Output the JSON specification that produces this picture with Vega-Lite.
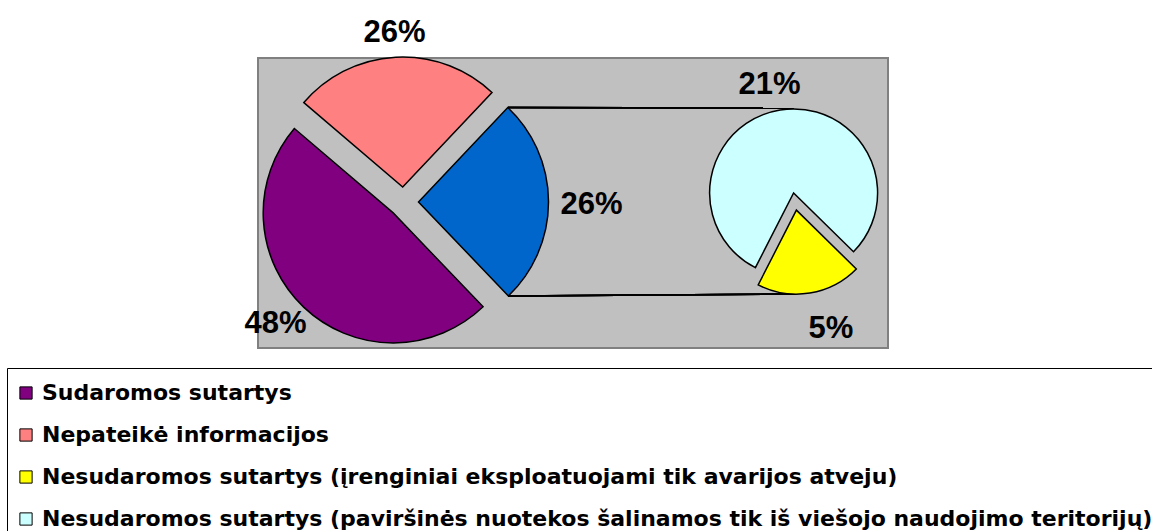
{
  "$schema": "https://vega.github.io/schema/vega-lite/v6.json",
  "width": 630,
  "height": 290,
  "autosize": {"type": "none"},
  "padding": {"left": 258, "top": 58, "right": 264, "bottom": 183},
  "background": "white",
  "config": {
    "view": {"fill": "#C0C0C0", "stroke": "#808080", "strokeWidth": 2},
    "legend": {
      "symbolType": "square",
      "symbolSize": 150,
      "symbolStrokeColor": "#000000",
      "symbolStrokeWidth": 1,
      "symbolOffset": -6,
      "labelFont": "DejaVu Sans",
      "labelFontSize": 22,
      "labelFontWeight": "bold",
      "labelColor": "#000000",
      "labelLimit": 3000,
      "labelOffset": 5,
      "rowPadding": 20,
      "padding": 14,
      "strokeColor": "#000000",
      "fillColor": "#FFFFFF",
      "cornerRadius": 0
    }
  },
  "data": {
    "values": [
      {"pie": "main", "cat": "Nepateikė informacijos", "value": 0.258, "order": 1},
      {"pie": "main", "cat": "Kita", "value": 0.258, "order": 2},
      {"pie": "main", "cat": "Sudaromos sutartys", "value": 0.484, "order": 3},
      {"pie": "sub", "cat": "Nesudaromos sutartys (įrenginiai eksploatuojami tik avarijos atveju)", "value": 0.052, "order": 1},
      {"pie": "sub", "cat": "Nesudaromos sutartys (paviršinės nuotekos šalinamos tik iš viešojo naudojimo teritorijų)", "value": 0.206, "order": 2}
    ]
  },
  "transform": [
    {"stack": "value", "groupby": ["pie"], "sort": [{"field": "order", "order": "ascending"}], "as": ["t0", "t1"]}
  ],
  "encoding": {
    "x": {"field": "pie", "type": "nominal", "scale": {"type": "point", "domain": ["main", "sub"], "range": [145.5, 537], "padding": 0}, "axis": null},
    "y": {"field": "pie", "type": "nominal", "scale": {"type": "point", "domain": ["main", "sub"], "range": [144, 143.5], "padding": 0}, "axis": null}
  },
  "layer": [
    {
      "mark": {"type": "rule", "stroke": "#000000", "strokeWidth": 1.5, "xOffset": 104.5, "yOffset": -94.5, "x2Offset": -1.5, "y2Offset": -93.5},
      "encoding": {
        "x": {"datum": "main", "type": "nominal"},
        "x2": {"datum": "sub"},
        "y": {"datum": "main", "type": "nominal"},
        "y2": {"datum": "sub"}
      }
    },
    {
      "mark": {"type": "rule", "stroke": "#000000", "strokeWidth": 1.5, "xOffset": 104.8, "yOffset": 94, "x2Offset": 1, "y2Offset": 92.5},
      "encoding": {
        "x": {"datum": "main", "type": "nominal"},
        "x2": {"datum": "sub"},
        "y": {"datum": "main", "type": "nominal"},
        "y2": {"datum": "sub"}
      }
    },
    {
      "transform": [{"filter": "datum.cat === 'Nepateikė informacijos'"}],
      "mark": {"type": "arc", "outerRadius": 130, "stroke": "#000000", "strokeWidth": 1.5, "xOffset": -0.8, "yOffset": -15},
      "encoding": {
        "theta": {"field": "t0", "type": "quantitative", "scale": {"domain": [0, 1], "range": [-0.86394, 5.41925]}},
        "theta2": {"field": "t1"},
        "color": {"field": "cat", "type": "nominal", "scale": {"domain": ["Sudaromos sutartys", "Nepateikė informacijos", "Nesudaromos sutartys (įrenginiai eksploatuojami tik avarijos atveju)", "Nesudaromos sutartys (paviršinės nuotekos šalinamos tik iš viešojo naudojimo teritorijų)"], "range": ["#800080", "#FF8080", "#FFFF00", "#CCFFFF"]}, "legend": {"orient": "none", "legendX": -251, "legendY": 310, "direction": "vertical", "title": null}}
      }
    },
    {
      "transform": [{"filter": "datum.cat === 'Kita'"}],
      "mark": {"type": "arc", "outerRadius": 130, "stroke": "#000000", "strokeWidth": 1.5, "fill": "#0066CC", "xOffset": 15, "yOffset": 0},
      "encoding": {
        "theta": {"field": "t0", "type": "quantitative", "scale": {"domain": [0, 1], "range": [-0.86394, 5.41925]}},
        "theta2": {"field": "t1"}
      }
    },
    {
      "transform": [{"filter": "datum.cat === 'Sudaromos sutartys'"}],
      "mark": {"type": "arc", "outerRadius": 130, "stroke": "#000000", "strokeWidth": 1.5, "xOffset": -10.3, "yOffset": 10.9},
      "encoding": {
        "theta": {"field": "t0", "type": "quantitative", "scale": {"domain": [0, 1], "range": [-0.86394, 5.41925]}},
        "theta2": {"field": "t1"},
        "color": {"field": "cat", "type": "nominal", "scale": {"domain": ["Sudaromos sutartys", "Nepateikė informacijos", "Nesudaromos sutartys (įrenginiai eksploatuojami tik avarijos atveju)", "Nesudaromos sutartys (paviršinės nuotekos šalinamos tik iš viešojo naudojimo teritorijų)"], "range": ["#800080", "#FF8080", "#FFFF00", "#CCFFFF"]}, "legend": {"orient": "none", "legendX": -251, "legendY": 310, "direction": "vertical", "title": null}}
      }
    },
    {
      "transform": [{"filter": "datum.cat === 'Nesudaromos sutartys (įrenginiai eksploatuojami tik avarijos atveju)'"}],
      "mark": {"type": "arc", "outerRadius": 84, "stroke": "#000000", "strokeWidth": 1.5, "xOffset": 1.4, "yOffset": 8.6},
      "encoding": {
        "theta": {"field": "t0", "type": "quantitative", "scale": {"domain": [0, 0.258], "range": [2.34747, 8.63066]}},
        "theta2": {"field": "t1"},
        "color": {"field": "cat", "type": "nominal", "scale": {"domain": ["Sudaromos sutartys", "Nepateikė informacijos", "Nesudaromos sutartys (įrenginiai eksploatuojami tik avarijos atveju)", "Nesudaromos sutartys (paviršinės nuotekos šalinamos tik iš viešojo naudojimo teritorijų)"], "range": ["#800080", "#FF8080", "#FFFF00", "#CCFFFF"]}, "legend": {"orient": "none", "legendX": -251, "legendY": 310, "direction": "vertical", "title": null}}
      }
    },
    {
      "transform": [{"filter": "datum.cat === 'Nesudaromos sutartys (paviršinės nuotekos šalinamos tik iš viešojo naudojimo teritorijų)'"}],
      "mark": {"type": "arc", "outerRadius": 84, "stroke": "#000000", "strokeWidth": 1.5, "xOffset": -1.4, "yOffset": -8.6},
      "encoding": {
        "theta": {"field": "t0", "type": "quantitative", "scale": {"domain": [0, 0.258], "range": [2.34747, 8.63066]}},
        "theta2": {"field": "t1"},
        "color": {"field": "cat", "type": "nominal", "scale": {"domain": ["Sudaromos sutartys", "Nepateikė informacijos", "Nesudaromos sutartys (įrenginiai eksploatuojami tik avarijos atveju)", "Nesudaromos sutartys (paviršinės nuotekos šalinamos tik iš viešojo naudojimo teritorijų)"], "range": ["#800080", "#FF8080", "#FFFF00", "#CCFFFF"]}, "legend": {"orient": "none", "legendX": -251, "legendY": 310, "direction": "vertical", "title": null}}
      }
    },
    {
      "transform": [{"filter": "datum.pie === 'main'"}],
      "mark": {"type": "text", "radius": 170, "yOffset": 1, "font": "Liberation Sans", "fontSize": 31, "fontWeight": "bold", "fill": "#000000", "align": "center", "baseline": "middle"},
      "encoding": {
        "theta": {"field": "value", "type": "quantitative", "stack": true, "scale": {"domain": [0, 1], "range": [-0.86394, 5.41925]}},
        "order": {"field": "order", "type": "quantitative"},
        "detail": {"field": "cat", "type": "nominal"},
        "text": {"condition": {"test": "datum.cat === 'Nepateikė informacijos'", "field": "value", "type": "quantitative", "format": ".0%"}, "value": ""}
      }
    },
    {
      "transform": [{"filter": "datum.pie === 'main'"}],
      "mark": {"type": "text", "radius": 188, "yOffset": 4, "font": "Liberation Sans", "fontSize": 31, "fontWeight": "bold", "fill": "#000000", "align": "center", "baseline": "middle"},
      "encoding": {
        "theta": {"field": "value", "type": "quantitative", "stack": true, "scale": {"domain": [0, 1], "range": [-0.86394, 5.41925]}},
        "order": {"field": "order", "type": "quantitative"},
        "detail": {"field": "cat", "type": "nominal"},
        "text": {"condition": {"test": "datum.cat === 'Kita'", "field": "value", "type": "quantitative", "format": ".0%"}, "value": ""}
      }
    },
    {
      "transform": [{"filter": "datum.pie === 'main'"}],
      "mark": {"type": "text", "radius": 176, "xOffset": -7, "yOffset": -6, "font": "Liberation Sans", "fontSize": 31, "fontWeight": "bold", "fill": "#000000", "align": "center", "baseline": "middle"},
      "encoding": {
        "theta": {"field": "value", "type": "quantitative", "stack": true, "scale": {"domain": [0, 1], "range": [-0.86394, 5.41925]}},
        "order": {"field": "order", "type": "quantitative"},
        "detail": {"field": "cat", "type": "nominal"},
        "text": {"condition": {"test": "datum.cat === 'Sudaromos sutartys'", "field": "value", "type": "quantitative", "format": ".0%"}, "value": ""}
      }
    },
    {
      "transform": [{"filter": "datum.pie === 'sub'"}],
      "mark": {"type": "text", "radius": 131, "xOffset": 15, "yOffset": -2, "font": "Liberation Sans", "fontSize": 31, "fontWeight": "bold", "fill": "#000000", "align": "center", "baseline": "middle"},
      "encoding": {
        "theta": {"field": "value", "type": "quantitative", "stack": true, "scale": {"domain": [0, 0.258], "range": [2.34747, 8.63066]}},
        "order": {"field": "order", "type": "quantitative"},
        "detail": {"field": "cat", "type": "nominal"},
        "text": {"condition": {"test": "datum.cat === 'Nesudaromos sutartys (įrenginiai eksploatuojami tik avarijos atveju)'", "field": "value", "type": "quantitative", "format": ".0%"}, "value": ""}
      }
    },
    {
      "transform": [{"filter": "datum.pie === 'sub'"}],
      "mark": {"type": "text", "radius": 122, "xOffset": -6, "yOffset": 4, "font": "Liberation Sans", "fontSize": 31, "fontWeight": "bold", "fill": "#000000", "align": "center", "baseline": "middle"},
      "encoding": {
        "theta": {"field": "value", "type": "quantitative", "stack": true, "scale": {"domain": [0, 0.258], "range": [2.34747, 8.63066]}},
        "order": {"field": "order", "type": "quantitative"},
        "detail": {"field": "cat", "type": "nominal"},
        "text": {"condition": {"test": "datum.cat === 'Nesudaromos sutartys (paviršinės nuotekos šalinamos tik iš viešojo naudojimo teritorijų)'", "field": "value", "type": "quantitative", "format": ".0%"}, "value": ""}
      }
    }
  ],
  "resolve": {"scale": {"theta": "independent"}}
}
